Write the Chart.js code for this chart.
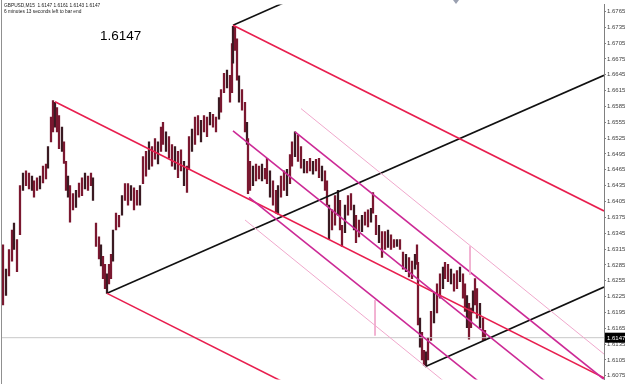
<!DOCTYPE html>
<html>
<head>
<meta charset="utf-8">
<script src="https://cdn.jsdelivr.net/npm/chart.js@4/dist/chart.umd.min.js"></script>
<style>
  html, body { margin: 0; padding: 0; background: #fff; }
  #wrap { width: 625px; height: 384px; }
</style>
</head>
<body>
<div id="wrap"><canvas id="chart" width="625" height="384"></canvas></div>
<script>
// GBPUSD M15 - barras (posicion de barra, maximo, minimo)
const barX = [3, 6, 9, 12, 14, 17, 20, 23, 26, 29, 32, 34, 37, 40, 43, 46, 48, 51, 53, 55, 57, 59, 62, 64, 66, 68, 70, 73, 76, 79, 82, 85, 88, 91, 93, 96, 99, 101, 103, 105, 107, 109, 111, 113, 116, 119, 122, 125, 128, 131, 134, 137, 140, 143, 146, 149, 152, 155, 158, 161, 163, 166, 169, 172, 175, 178, 181, 184, 187, 189, 192, 195, 198, 201, 204, 207, 210, 213, 216, 219, 221, 224, 227, 230, 232, 233, 235, 237, 239, 242, 245, 247, 248, 250, 253, 256, 259, 262, 265, 267, 270, 273, 276, 278, 281, 284, 287, 290, 292, 295, 298, 301, 304, 307, 310, 313, 316, 319, 322, 325, 327, 329, 332, 335, 338, 340, 342, 345, 348, 351, 354, 356, 359, 362, 365, 368, 371, 373, 376, 379, 382, 385, 388, 391, 394, 397, 400, 403, 406, 409, 412, 415, 417, 418, 420, 422, 424, 426, 428, 431, 434, 437, 440, 443, 445, 448, 451, 454, 457, 460, 463, 465, 467, 469, 471, 473, 475, 477, 480, 483, 485];
const barHigh = [1.6323, 1.6277, 1.6314, 1.6351, 1.6364, 1.6333, 1.6435, 1.6459, 1.6463, 1.6459, 1.6453, 1.6444, 1.6450, 1.6453, 1.6472, 1.6476, 1.6509, 1.6565, 1.6596, 1.6593, 1.6583, 1.6568, 1.6546, 1.6518, 1.6481, 1.6453, 1.6435, 1.6420, 1.6426, 1.6440, 1.6450, 1.6459, 1.6453, 1.6459, 1.6450, 1.6364, 1.6338, 1.6323, 1.6301, 1.6286, 1.6268, 1.6286, 1.6305, 1.6351, 1.6383, 1.6379, 1.6416, 1.6439, 1.6439, 1.6435, 1.6431, 1.6426, 1.6435, 1.6490, 1.6500, 1.6518, 1.6509, 1.6524, 1.6518, 1.6546, 1.6555, 1.6537, 1.6528, 1.6513, 1.6509, 1.6500, 1.6503, 1.6481, 1.6472, 1.6528, 1.6542, 1.6565, 1.6568, 1.6559, 1.6568, 1.6565, 1.6574, 1.6570, 1.6565, 1.6602, 1.6617, 1.6648, 1.6654, 1.6644, 1.6704, 1.6737, 1.6735, 1.6713, 1.6643, 1.6617, 1.6593, 1.6555, 1.6524, 1.6481, 1.6472, 1.6476, 1.6472, 1.6476, 1.6468, 1.6487, 1.6463, 1.6444, 1.6426, 1.6435, 1.6453, 1.6463, 1.6466, 1.6494, 1.6518, 1.6537, 1.6531, 1.6509, 1.6485, 1.6481, 1.6487, 1.6481, 1.6485, 1.6487, 1.6472, 1.6463, 1.6444, 1.6398, 1.6389, 1.6416, 1.6426, 1.6407, 1.6360, 1.6398, 1.6416, 1.6420, 1.6398, 1.6379, 1.6370, 1.6379, 1.6385, 1.6389, 1.6392, 1.6422, 1.6379, 1.6360, 1.6348, 1.6348, 1.6351, 1.6342, 1.6333, 1.6333, 1.6333, 1.6309, 1.6305, 1.6299, 1.6292, 1.6305, 1.6323, 1.6290, 1.6184, 1.6157, 1.6123, 1.6120, 1.6147, 1.6197, 1.6231, 1.6249, 1.6268, 1.6281, 1.6290, 1.6286, 1.6277, 1.6268, 1.6274, 1.6281, 1.6268, 1.6249, 1.6227, 1.6212, 1.6203, 1.6236, 1.6259, 1.6240, 1.6212, 1.6184, 1.6161];
const barLow = [1.6209, 1.6227, 1.6264, 1.6292, 1.6314, 1.6272, 1.6342, 1.6426, 1.6435, 1.6429, 1.6426, 1.6413, 1.6426, 1.6429, 1.6440, 1.6448, 1.6468, 1.6518, 1.6537, 1.6546, 1.6537, 1.6505, 1.6500, 1.6477, 1.6426, 1.6413, 1.6366, 1.6389, 1.6394, 1.6413, 1.6416, 1.6429, 1.6426, 1.6435, 1.6407, 1.6320, 1.6296, 1.6283, 1.6259, 1.6240, 1.6231, 1.6249, 1.6259, 1.6292, 1.6351, 1.6357, 1.6379, 1.6407, 1.6398, 1.6407, 1.6389, 1.6398, 1.6398, 1.6439, 1.6453, 1.6466, 1.6472, 1.6485, 1.6476, 1.6500, 1.6513, 1.6500, 1.6487, 1.6472, 1.6466, 1.6450, 1.6463, 1.6435, 1.6422, 1.6466, 1.6500, 1.6513, 1.6531, 1.6518, 1.6537, 1.6528, 1.6550, 1.6546, 1.6537, 1.6561, 1.6574, 1.6611, 1.6620, 1.6593, 1.6611, 1.6667, 1.6691, 1.6635, 1.6593, 1.6578, 1.6537, 1.6513, 1.6420, 1.6426, 1.6435, 1.6444, 1.6448, 1.6444, 1.6448, 1.6439, 1.6413, 1.6398, 1.6383, 1.6381, 1.6413, 1.6426, 1.6416, 1.6439, 1.6472, 1.6490, 1.6481, 1.6468, 1.6459, 1.6459, 1.6463, 1.6457, 1.6463, 1.6450, 1.6444, 1.6426, 1.6398, 1.6333, 1.6351, 1.6360, 1.6379, 1.6351, 1.6320, 1.6346, 1.6379, 1.6389, 1.6351, 1.6327, 1.6338, 1.6348, 1.6360, 1.6357, 1.6366, 1.6383, 1.6342, 1.6327, 1.6299, 1.6314, 1.6318, 1.6314, 1.6318, 1.6320, 1.6314, 1.6277, 1.6272, 1.6262, 1.6259, 1.6277, 1.6286, 1.6171, 1.6129, 1.6105, 1.6095, 1.6092, 1.6105, 1.6142, 1.6175, 1.6194, 1.6222, 1.6240, 1.6259, 1.6253, 1.6249, 1.6235, 1.6240, 1.6253, 1.6222, 1.6197, 1.6166, 1.6144, 1.6166, 1.6194, 1.6209, 1.6184, 1.6166, 1.6142, 1.6143];

// Lineas de tendencia: [x1, precio1, x2, precio2]
const redLines = [[55, 1.6594, 604, 1.6071], [233, 1.6739, 604, 1.6387], [107, 1.6231, 300, 1.6047]];
const blackLines = [[107, 1.6231, 604, 1.6644], [233, 1.6739, 300, 1.6795], [425, 1.6092, 604, 1.6243]];
const magentaLines = [[295, 1.6537, 604, 1.6068], [233, 1.6539, 560, 1.6042], [249, 1.6413, 480, 1.6062]];
const paleLines = [[301, 1.6581, 604, 1.6116], [245, 1.6370, 450, 1.6055], [375, 1.6218, 375, 1.6151], [470, 1.6320, 470, 1.6266]];

// Eje de precios
const tickValues = [1.6765, 1.6735, 1.6705, 1.6675, 1.6645, 1.6615, 1.6585, 1.6555, 1.6525, 1.6495, 1.6465, 1.6435, 1.6405, 1.6375, 1.6345, 1.6315, 1.6285, 1.6255, 1.6225, 1.6195, 1.6165, 1.6135, 1.6105, 1.6075];
const bidPrice = 1.6147;
const headerLine1 = 'GBPUSD,M15  1.6147 1.6161 1.6143 1.6147';
const headerLine2 = '6 minutes 13 seconds left to bar end';

function lineSet(seg, color, width) {
    return {
        type: 'line',
        data: [{ x: seg[0], y: seg[1] }, { x: seg[2], y: seg[3] }],
        borderColor: color,
        borderWidth: width,
        pointRadius: 0,
        fill: false,
        order: 1
    };
}

const datasets = [];
datasets.push({
    type: 'bar',
    data: barX.map((x, i) => ({ x: x, y: [barLow[i], barHigh[i]] })),
    backgroundColor: barX.map((x, i) => i % 3 === 1 ? '#3a1a22' : '#7a1830'),
    barThickness: 1.6,
    grouped: false,
    order: 3
});
// linea del bid
datasets.push({
    type: 'line',
    data: [{ x: 2, y: bidPrice }, { x: 604, y: bidPrice }],
    borderColor: '#c8c8c8',
    borderWidth: 1,
    pointRadius: 0,
    order: 2
});
paleLines.forEach(s => datasets.push(lineSet(s, '#f0a8cc', 1)));
magentaLines.forEach(s => datasets.push(lineSet(s, '#cc2a96', 1.6)));
redLines.forEach(s => datasets.push(lineSet(s, '#e81e4e', 1.6)));
blackLines.forEach(s => datasets.push(lineSet(s, '#111111', 1.6)));

const textos = {
    id: 'textos',
    afterDraw(chart) {
        const c = chart.ctx;
        const a = chart.chartArea;
        c.save();
        // borde izquierdo
        c.strokeStyle = '#909090';
        c.lineWidth = 1;
        c.beginPath();
        c.moveTo(1.5, 0);
        c.lineTo(1.5, 384);
        c.stroke();
        // cabecera
        c.fillStyle = '#202020';
        c.font = '4.8px "Liberation Sans"';
        c.textBaseline = 'top';
        c.fillText(headerLine1, 4, 3);
        c.fillText(headerLine2, 4, 9);
        // precio grande
        c.fillStyle = '#000';
        c.font = '13.5px "Liberation Sans"';
        c.textBaseline = 'alphabetic';
        c.fillText(bidPrice.toFixed(4), 100, 40);
        // etiqueta del precio actual
        const y = chart.scales.y.getPixelForValue(bidPrice);
        c.fillStyle = '#000';
        c.fillRect(a.right + 1, y - 5, 21, 10);
        c.fillStyle = '#fff';
        c.font = '6px "Liberation Sans"';
        c.textBaseline = 'middle';
        c.fillText(bidPrice.toFixed(4), a.right + 3, y + 0.5);
        // marcador de desplazamiento
        c.fillStyle = '#9aa0b0';
        c.beginPath();
        c.moveTo(453, 0);
        c.lineTo(459, 0);
        c.lineTo(456, 4);
        c.closePath();
        c.fill();
        c.restore();
    }
};

const ctx = document.getElementById('chart').getContext('2d');
const grafico = new Chart(ctx, {
    data: { datasets: datasets },
    options: {
        responsive: false,
        animation: false,
        devicePixelRatio: 1,
        layout: { padding: { left: 2, right: 0, top: 0, bottom: 1 } },
        plugins: { legend: { display: false }, tooltip: { enabled: false } },
        scales: {
            x: { type: 'linear', display: false, offset: false, min: 2, max: 604 },
            y: {
                type: 'linear',
                position: 'right',
                min: 1.6068,
                max: 1.6778,
                border: { display: true, color: '#808080' },
                grid: { drawOnChartArea: false, drawTicks: true, tickLength: 2, color: '#808080' },
                ticks: {
                    font: { size: 6, family: 'Liberation Sans' },
                    color: '#404040',
                    padding: 1,
                    callback: v => v.toFixed(4)
                },
                afterBuildTicks: axis => { axis.ticks = tickValues.map(v => ({ value: v })); },
                afterFit: axis => { axis.width = 21; }
            }
        }
    },
    plugins: [textos]
});
</script>
</body>
</html>
